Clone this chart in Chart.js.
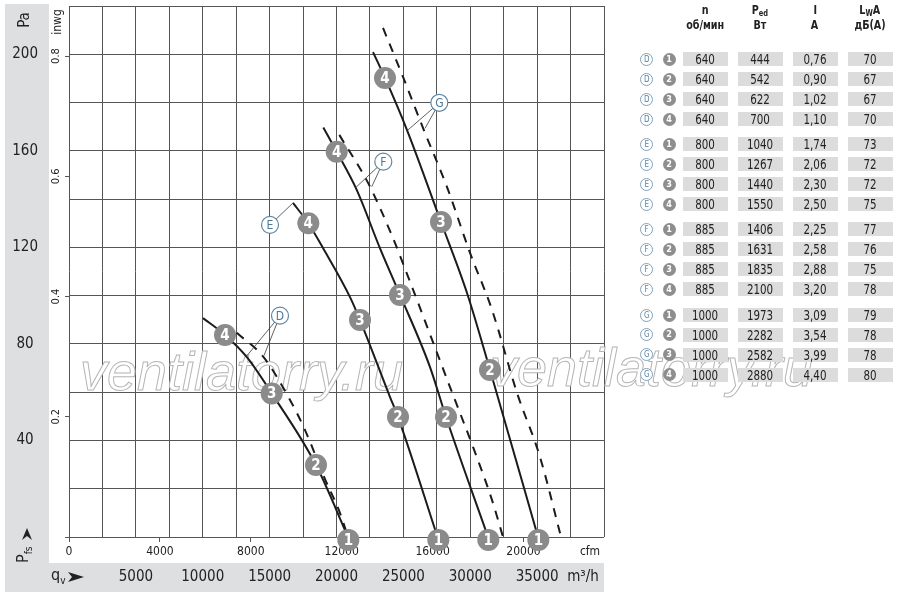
<!DOCTYPE html>
<html>
<head>
<meta charset="utf-8">
<script src="https://cdn.jsdelivr.net/npm/chart.js@4.4.0/dist/chart.umd.min.js"></script>
<style>
body { margin: 0; background: #fff; }
#wrap { position: relative; width: 900px; height: 594px; overflow: hidden;
        font-family: "DejaVu Sans Condensed", "Liberation Sans", sans-serif; }
#fan { position: absolute; left: 0; top: 0; }
.cell { position: absolute; width: 45px; height: 14px; background: #dcdcdc; color: #222;
        font-size: 14px; line-height: 14px; text-align: center; }
.cell span, .hd span { display: inline-block; transform: scaleX(0.82); }
.hd { position: absolute; width: 70px; text-align: center; font-size: 13px; font-weight: bold;
      color: #222; line-height: 14px; }
.hd sub { font-size: 9px; vertical-align: -2px; line-height: 0; }
.lt { position: absolute; width: 11px; height: 11px; border: 1px solid #7fa2bd; border-radius: 50%;
      background: #fff; color: #5b83a2; font-size: 8px; line-height: 11px; text-align: center; }
.nm { position: absolute; width: 13px; height: 13px; border-radius: 50%; background: #8e8e8e;
      color: #fff; font-size: 9px; font-weight: bold; line-height: 13px; text-align: center; }
</style>
</head>
<body>
<div id="wrap">
  <canvas id="fan" width="900" height="594"></canvas>
</div>
<script>
// units
var PA_PER_INWG = 249.089;
var M3H_PER_CFM = 1.699;
var cfmTicks = [0, 4000, 8000, 12000, 16000, 20000];

// curves: [m3/h, Pa]
var solidD = [[10019, 90.7], [11664, 83.7], [13300, 74.5], [15156, 59.5], [18468, 29.8], [20861, 0]];
var dashD  = [[12539, 84.6], [14505, 74.8], [16524, 56.8], [17646, 44.3], [19141, 24.0], [20263, 9.9], [20861, 0]];
var solidE = [[16748, 138.4], [17893, 130.0], [18992, 119.7], [21010, 99.4], [21758, 89.9], [24001, 58.0], [24599, 49.7], [27553, 0]];
var solidF = [[19014, 169.7], [20016, 159.6], [21511, 143.8], [23253, 119.6], [24749, 100.3], [26992, 70.4], [28188, 49.7], [31329, 0]];
var dashF  = [[20210, 166.6], [22379, 146.5], [24128, 125.1], [25646, 103.6], [28487, 62.1], [30207, 37.3], [31628, 15.3], [32450, 0]];
var solidG = [[22730, 200.9], [23627, 190.2], [25272, 168.6], [27814, 130.5], [29758, 101.1], [31478, 69.2], [35067, 0]];
var dashG  = [[23478, 210.9], [24973, 190.6], [26618, 167.4], [28263, 145.0], [29983, 117.7], [31628, 94.1], [33497, 59.7], [35217, 33.1], [36787, 0]];

// operating points 1..4 on each curve
var pointsD = [[20884, -1.2], [18468, 29.8], [15156, 59.5], [11664, 83.7]];
var pointsE = [[27613, -1.2], [24599, 49.7], [21758, 89.9], [17893, 130.0]];
var pointsF = [[31351, -1.2], [28188, 49.7], [24749, 100.3], [20016, 159.6]];
var pointsG = [[35090, -1.2], [31478, 69.2], [27814, 130.5], [23627, 190.2]];
var pointNames = ['1', '2', '3', '4'];

// curve letters and where their leaders touch
var letters = ['D', 'E', 'F', 'G'];
var letterPos = [[15776, 91.7], [15029, 129.3], [23500, 155.5], [27687, 179.9]];
var leaderEnds = [
  [[13287, 75.0], [14580, 75.2]],
  [[16748, 138.4]],
  [[21384, 144.5], [22633, 145.1]],
  [[25250, 168.2], [26618, 169.3]]
];

// table
var speeds  = [640, 800, 885, 1000];
var power   = [[444, 542, 622, 700], [1040, 1267, 1440, 1550], [1406, 1631, 1835, 2100], [1973, 2282, 2582, 2880]];
var current = [['0,76', '0,90', '1,02', '1,10'], ['1,74', '2,06', '2,30', '2,50'], ['2,25', '2,58', '2,88', '3,20'], ['3,09', '3,54', '3,99', '4,40']];
var noise   = [[70, 67, 67, 70], [73, 72, 72, 75], [77, 76, 75, 78], [79, 78, 78, 80]];

var FONT = '"DejaVu Sans Condensed", "Liberation Sans", sans-serif';
Chart.defaults.font.family = FONT;
Chart.defaults.color = '#222';

function xy(arr) { return arr.map(function (p) { return {x: p[0], y: p[1]}; }); }

function curve(arr, dashed) {
  return {
    data: xy(arr), showLine: true, borderColor: '#1b1b1b', borderWidth: 2, pointRadius: 0,
    borderDash: dashed ? [9, 8] : [], cubicInterpolationMode: 'monotone', fill: false, order: 3
  };
}

var datasets = [
  curve(solidD), curve(dashD, true), curve(solidE), curve(solidF), curve(dashF, true), curve(solidG), curve(dashG, true)
];

// leader lines
letterPos.forEach(function (lp, i) {
  leaderEnds[i].forEach(function (end) {
    datasets.push({
      data: xy([lp, end]), borderColor: '#3a3a3a', borderWidth: 0.8, pointRadius: 0,
      showLine: true, fill: false, order: 2
    });
  });
});

// letter circles
datasets.push({
  data: xy(letterPos), showLine: false, pointRadius: 8.5, pointBackgroundColor: '#fff',
  pointBorderColor: '#5d86a5', pointBorderWidth: 1.2, order: 1,
  pointText: letters, pointFont: '12px ' + FONT, pointTextColor: '#4f7894'
});

// operating point markers
[pointsD, pointsE, pointsF, pointsG].forEach(function (pts) {
  datasets.push({
    data: xy(pts), showLine: false, pointRadius: 11, pointBackgroundColor: '#8b8b8b',
    pointBorderWidth: 0, order: 0, clip: false,
    pointText: pointNames, pointFont: 'bold 15px ' + FONT, pointTextColor: '#fff'
  });
});

var pageDecor = {
  id: 'pageDecor',
  beforeDraw: function (chart) {
    var c = chart.ctx;
    c.save();
    c.fillStyle = '#dedfe1';
    c.fillRect(5, 4, 44, 560);
    c.fillRect(5, 563, 599, 29);
    c.restore();
  },
  beforeDatasetsDraw: function (chart) {
    var c = chart.ctx;
    c.save();
    c.font = 'italic 54px "Liberation Sans", Arial, sans-serif';
    c.fillStyle = '#fff';
    c.strokeStyle = '#b5b5b5';
    c.lineWidth = 1;
    [[80, 390], [490, 386]].forEach(function (p) {
      c.fillText('ventilatorry.ru', p[0], p[1]);
      c.strokeText('ventilatorry.ru', p[0], p[1]);
    });
    c.restore();
  },
  afterDatasetsDraw: function (chart) {
    var c = chart.ctx;
    chart.data.datasets.forEach(function (ds, i) {
      if (!ds.pointText) return;
      var meta = chart.getDatasetMeta(i);
      c.save();
      c.font = ds.pointFont;
      c.fillStyle = ds.pointTextColor;
      c.textAlign = 'center';
      c.textBaseline = 'middle';
      meta.data.forEach(function (pt, j) { c.fillText(ds.pointText[j], pt.x, pt.y + 1); });
      c.restore();
    });
  },
  afterDraw: function (chart) {
    var c = chart.ctx;
    c.save();
    c.fillStyle = '#222';
    c.textBaseline = 'middle';
    // rotated axis names
    c.save();
    c.translate(25, 20); c.rotate(-Math.PI / 2);
    c.textAlign = 'center'; c.font = '15px ' + FONT;
    c.fillText('Pa', 0, 0);
    c.restore();
    c.save();
    c.translate(58, 22); c.rotate(-Math.PI / 2);
    c.textAlign = 'center'; c.font = '12px ' + FONT;
    c.fillText('inwg', 0, 0);
    c.restore();
    // P fs
    c.save();
    c.translate(24, 563); c.rotate(-Math.PI / 2);
    c.textAlign = 'left'; c.font = '16px ' + FONT;
    c.fillText('P', 0, 0);
    var wP = c.measureText('P').width;
    c.font = '10px ' + FONT;
    c.fillText('fs', wP, 5);
    c.restore();
    // q v
    c.textAlign = 'left';
    c.font = '16px ' + FONT;
    c.fillText('q', 51, 576);
    var wq = c.measureText('q').width;
    c.font = '10px ' + FONT;
    c.fillText('v', 51 + wq, 581);
    // arrowheads
    c.beginPath();
    c.moveTo(27, 528); c.lineTo(32, 540); c.lineTo(27, 536); c.lineTo(22, 540); c.closePath();
    c.fill();
    c.beginPath();
    c.moveTo(84, 577); c.lineTo(68, 572); c.lineTo(72, 577); c.lineTo(68, 582); c.closePath();
    c.fill();
    // units
    c.textAlign = 'center';
    c.font = '12px ' + FONT;
    c.fillText('cfm', 590, 552);
    c.font = '15px ' + FONT;
    c.fillText('m³/h', 583, 577);
    c.restore();
  }
};

function zeroPad() { return {left: 0, top: 0, right: 0, bottom: 0}; }
function noPadX(s, h) { s.height = h; s.paddingLeft = 0; s.paddingRight = 0; s.getPadding = zeroPad; }
function noPadY(s, w) { s.width = w; s.paddingTop = 0; s.paddingBottom = 0; s.getPadding = zeroPad; }

new Chart(document.getElementById('fan'), {
  type: 'scatter',
  data: {datasets: datasets},
  options: {
    responsive: false,
    animation: false,
    events: [],
    layout: {autoPadding: false, padding: {top: 6, right: 296, left: 0, bottom: 0}},
    plugins: {legend: {display: false}, tooltip: {enabled: false}},
    scales: {
      x: {
        type: 'linear', position: 'bottom', weight: 1, min: 0, max: 40000,
        ticks: {
          stepSize: 2500, autoSkip: false, maxRotation: 0, padding: 5, font: {size: 15},
          callback: function (v) { return (v % 5000 === 0 && v > 0 && v < 40000) ? String(v) : ''; }
        },
        grid: {color: '#555', lineWidth: 1, drawTicks: false},
        border: {display: false},
        afterFit: function (s) { noPadX(s, 31); }
      },
      cfm: {
        type: 'linear', position: 'bottom', weight: 0, min: 0, max: 40000 / M3H_PER_CFM,
        afterBuildTicks: function (s) { s.ticks = cfmTicks.map(function (v) { return {value: v}; }); },
        ticks: {
          autoSkip: false, maxRotation: 0, padding: 3, font: {size: 12},
          callback: function (v) { return String(v); }
        },
        grid: {drawOnChartArea: false, drawTicks: true, tickLength: 5, color: '#555'},
        border: {display: false},
        afterFit: function (s) { noPadX(s, 26); }
      },
      y: {
        type: 'linear', position: 'left', weight: 1, min: 0, max: 220,
        ticks: {
          stepSize: 20, crossAlign: 'center', padding: 11, font: {size: 15},
          callback: function (v) { return (v % 40 === 0 && v > 0) ? String(v) : ''; }
        },
        grid: {color: '#555', lineWidth: 1, drawTicks: false},
        border: {display: false},
        afterFit: function (s) { noPadY(s, 49); }
      },
      yIn: {
        type: 'linear', position: 'left', weight: 0, min: 0, max: 220 / PA_PER_INWG,
        ticks: {
          stepSize: 0.2, includeBounds: false, minRotation: 90, maxRotation: 90,
          crossAlign: 'center', padding: 1, font: {size: 11},
          callback: function (v) { return v > 0.01 ? v.toFixed(1) : ''; }
        },
        grid: {drawOnChartArea: false, drawTicks: true, tickLength: 4, color: '#555'},
        border: {display: false},
        afterFit: function (s) { noPadY(s, 20); }
      }
    }
  },
  plugins: [pageDecor]
});

// right-hand table
var wrap = document.getElementById('wrap');
function add(cls, html, left, top) {
  var d = document.createElement('div');
  d.className = cls;
  d.innerHTML = html;
  d.style.left = left + 'px';
  d.style.top = top + 'px';
  wrap.appendChild(d);
}
var colX = [705, 760, 815, 870];
var heads = [['n', 'об/мин'], ['P<sub>ed</sub>', 'Вт'], ['I', 'A'], ['L<sub>W</sub>A', 'дБ(A)']];
heads.forEach(function (h, k) {
  add('hd', '<span>' + h[0] + '</span>', colX[k] - 35, 3);
  add('hd', '<span>' + h[1] + '</span>', colX[k] - 35, 18);
});
var groupY = [59.3, 144.3, 229.3, 315];
speeds.forEach(function (n, g) {
  for (var r = 0; r < 4; r++) {
    var cy = groupY[g] + r * 19.9;
    add('lt', letters[g], 646.7 - 6.5, cy - 6.5);
    add('nm', pointNames[r], 669 - 6.5, cy - 6.5);
    var vals = [n, power[g][r], current[g][r], noise[g][r]];
    vals.forEach(function (v, k) { add('cell', '<span>' + v + '</span>', colX[k] - 22.5, cy - 7); });
  }
});
</script>
</body>
</html>
